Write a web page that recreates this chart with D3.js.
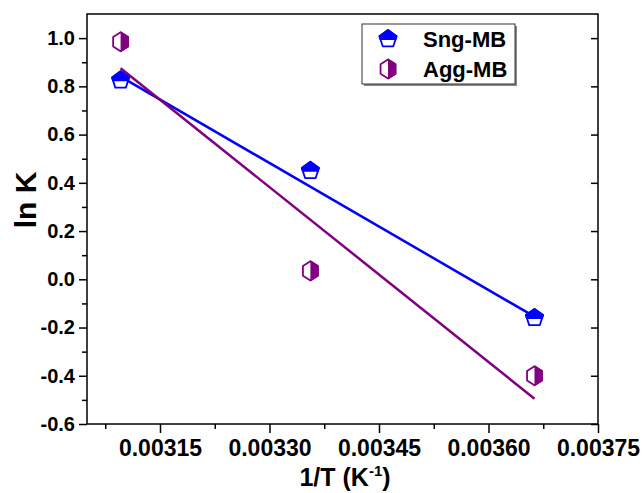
<!DOCTYPE html>
<html>
<head>
<meta charset="utf-8">
<script src="https://cdn.jsdelivr.net/npm/d3@7/dist/d3.min.js"></script>
<style>
  html, body { margin: 0; padding: 0; background: #fff; }
  svg { display: block; font-family: "Liberation Sans", Arial, sans-serif; font-weight: bold; }
</style>
</head>
<body>
<svg id="chart" width="642" height="493"></svg>
<script>
// Reciprocal temperatures (1/T, K^-1) for 323 K, 298 K and 273 K
const invT = [0.003096, 0.003356, 0.003663];
// ln K values for each series
const sngMB = [0.825, 0.45, -0.16];
const aggMB = [0.985, 0.035, -0.40];
// Linear-fit values at the first and last temperature
const fitX = [0.003096, 0.003663];
const sngFit = [0.84, -0.155];
const aggFit = [0.875, -0.495];
const seriesNames = ["Sng-MB", "Agg-MB"];
const seriesColors = ["#0000ff", "#800080"];
// Axis ticks
const xMajor = [0.00315, 0.0033, 0.00345, 0.0036, 0.00375];
const xMinor = [0.003075, 0.003225, 0.003375, 0.003525, 0.003675];
const yMajor = [-0.6, -0.4, -0.2, 0.0, 0.2, 0.4, 0.6, 0.8, 1.0];
const yMinor = [-0.5, -0.3, -0.1, 0.1, 0.3, 0.5, 0.7, 0.9];

const svg = d3.select("#chart");
const m = { left: 87, right: 598, top: 14, bottom: 424 };

const x = d3.scaleLinear().domain([0.00305, 0.00375]).range([m.left, m.right]);
const y = d3.scaleLinear().domain([-0.6, 1.1]).range([m.bottom, m.top]);

// plain hyphen for negative numbers
const fmtY = d => d3.format(".1f")(d).replace("\u2212", "-");
const fmtX = d => d3.format(".5f")(d);

// frame
svg.append("rect")
  .attr("x", m.left).attr("y", m.top)
  .attr("width", m.right - m.left).attr("height", m.bottom - m.top)
  .attr("fill", "none").attr("stroke", "#000").attr("stroke-width", 1.5);

// bottom axis
const xAxis = svg.append("g").attr("transform", `translate(0,${m.bottom})`);
xAxis.call(d3.axisBottom(x).tickValues(xMajor).tickSize(9).tickPadding(7).tickFormat(fmtX));
xAxis.append("g").call(d3.axisBottom(x).tickValues(xMinor).tickSize(5).tickFormat(""));
xAxis.selectAll(".domain").remove();
xAxis.selectAll("text").attr("font-size", 23).attr("font-weight", "bold")
  .attr("font-family", "Liberation Sans, Arial, sans-serif").attr("fill", "#000");
xAxis.selectAll("line").attr("stroke-width", 1.5);

// left axis
const yAxis = svg.append("g").attr("transform", `translate(${m.left},0)`);
yAxis.call(d3.axisLeft(y).tickValues(yMajor).tickSize(8).tickPadding(4).tickFormat(fmtY));
yAxis.append("g").call(d3.axisLeft(y).tickValues(yMinor).tickSize(5).tickFormat(""));
yAxis.selectAll(".domain").remove();
yAxis.selectAll("text").attr("font-size", 20).attr("font-weight", "bold")
  .attr("font-family", "Liberation Sans, Arial, sans-serif").attr("fill", "#000");
yAxis.selectAll("line").attr("stroke-width", 1.5);

// right axis: inward major ticks
const rAxis = svg.append("g").attr("transform", `translate(${m.right},0)`);
rAxis.call(d3.axisRight(y).tickValues(yMajor).tickSize(-7).tickFormat(""));
rAxis.selectAll(".domain").remove();
rAxis.selectAll("line").attr("stroke-width", 1.5);

// axis titles
svg.append("text")
  .attr("transform", `translate(36,200) rotate(-90)`)
  .attr("text-anchor", "middle").attr("font-size", 30).text("ln K");

const xt = svg.append("text")
  .attr("x", 345).attr("y", 486)
  .attr("text-anchor", "middle").attr("font-size", 25);
xt.append("tspan").text("1/T (K");
xt.append("tspan").attr("font-size", 15).attr("dy", -10).text("-1");
xt.append("tspan").attr("dy", 10).text(")");

// marker shapes
const pentagon = d3.range(5).map(i => {
  const a = -Math.PI / 2 + i * 2 * Math.PI / 5;
  return [9 * Math.cos(a), 9 * Math.sin(a)];
});
const hexagon = d3.range(6).map(i => {
  const a = -Math.PI / 2 + i * Math.PI / 3;
  return [8.6 * Math.cos(a), 9.6 * Math.sin(a)];
});
const poly = pts => "M" + pts.map(p => p.join(",")).join("L") + "Z";

const defs = svg.append("defs");
defs.append("clipPath").attr("id", "topHalf")
  .append("rect").attr("x", -12).attr("y", -12).attr("width", 24).attr("height", 13);
defs.append("clipPath").attr("id", "rightHalf")
  .append("rect").attr("x", 0).attr("y", -12).attr("width", 12).attr("height", 24);

function marker(g, shape, color, clip) {
  g.append("path").attr("d", poly(shape)).attr("fill", "#fff")
    .attr("stroke", color).attr("stroke-width", 1.8).attr("stroke-linejoin", "round");
  g.append("path").attr("d", poly(shape)).attr("fill", color)
    .attr("stroke", color).attr("stroke-width", 1.8).attr("stroke-linejoin", "round")
    .attr("clip-path", `url(#${clip})`);
}

const line = d3.line().x(d => x(d[0])).y(d => y(d[1]));
const series = [
  { values: sngMB, fit: sngFit, shape: pentagon, clip: "topHalf" },
  { values: aggMB, fit: aggFit, shape: hexagon, clip: "rightHalf" }
];

// fitted lines
series.forEach((s, i) => {
  svg.append("path").attr("d", line(fitX.map((v, k) => [v, s.fit[k]])))
    .attr("fill", "none").attr("stroke", seriesColors[i]).attr("stroke-width", 2.5);
});

// data points
series.forEach((s, i) => {
  s.values.forEach((v, j) => {
    const g = svg.append("g").attr("transform", `translate(${x(invT[j])},${y(v)})`);
    marker(g, s.shape, seriesColors[i], s.clip);
  });
});

// legend
const lg = svg.append("g");
lg.append("rect").attr("x", 364).attr("y", 26).attr("width", 153).attr("height", 60)
  .attr("fill", "#888");
lg.append("rect").attr("x", 362).attr("y", 24).attr("width", 153).attr("height", 60)
  .attr("fill", "#fff").attr("stroke", "#333").attr("stroke-width", 1);
series.forEach((s, i) => {
  const cy = 39 + i * 30;
  const g = lg.append("g").attr("transform", `translate(388,${cy})`);
  marker(g, s.shape, seriesColors[i], s.clip);
  lg.append("text").attr("x", 423).attr("y", cy + 8).attr("font-size", 22).text(seriesNames[i]);
});
</script>
</body>
</html>
